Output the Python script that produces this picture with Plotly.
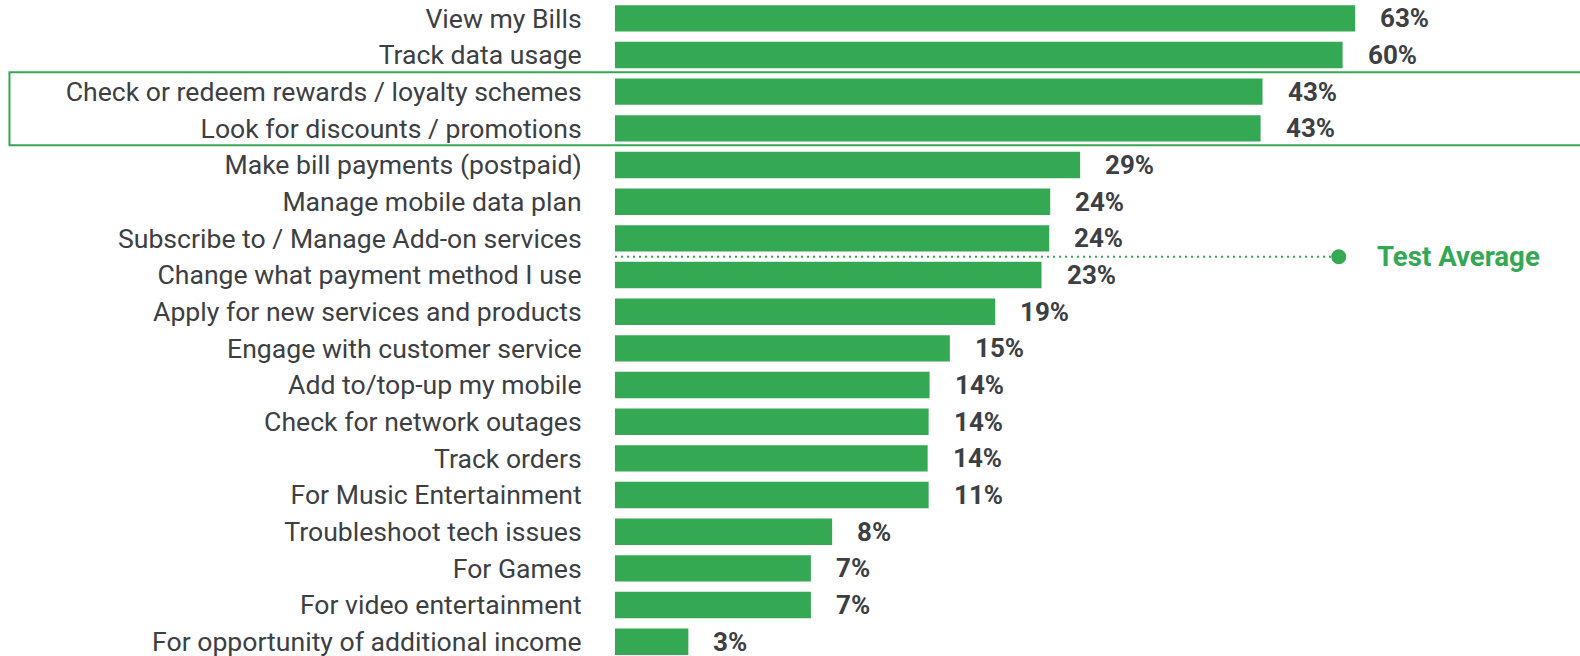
import plotly.graph_objects as go

categories = [
    "View my Bills",
    "Track data usage",
    "Check or redeem rewards / loyalty schemes",
    "Look for discounts / promotions",
    "Make bill payments (postpaid)",
    "Manage mobile data plan",
    "Subscribe to / Manage Add-on services",
    "Change what payment method I use",
    "Apply for new services and products",
    "Engage with customer service",
    "Add to/top-up my mobile",
    "Check for network outages",
    "Track orders",
    "For Music Entertainment",
    "Troubleshoot tech issues",
    "For Games",
    "For video entertainment",
    "For opportunity of additional income",
]
# bar lengths (index scale, as drawn)
bar_values = [76.7, 75.4, 67.1, 66.9, 48.2, 45.1, 45.0, 44.2, 39.4, 34.7,
              32.6, 32.5, 32.4, 32.5, 22.5, 20.3, 20.3, 7.6]
# shares printed next to the bars
pct_labels = ["63%", "60%", "43%", "43%", "29%", "24%", "24%", "23%", "19%",
              "15%", "14%", "14%", "14%", "11%", "8%", "7%", "7%", "3%"]
test_average = 75.0
test_average_label = "Test Average"

GREEN = "#34A853"
GRAY = "#3C4043"
FONT = "Roboto, Arial, sans-serif"

ypos = list(range(len(categories)))

fig = go.Figure()
fig.add_trace(go.Bar(
    x=bar_values, y=ypos, orientation="h", width=0.72,
    marker=dict(color=GREEN, line=dict(width=0)),
    hoverinfo="skip", showlegend=False,
))

# value labels
for v, y, t in zip(bar_values, ypos, pct_labels):
    fig.add_annotation(x=v, y=y, text=f"<b>{t}</b>", showarrow=False,
                       xanchor="left", yanchor="middle", xshift=23,
                       font=dict(family=FONT, size=26, color=GRAY))

# test average line + marker
avg_y = 6.5
fig.add_shape(type="line", x0=0, x1=test_average, y0=avg_y, y1=avg_y,
              xref="x", yref="y", line=dict(color=GREEN, width=2, dash="2px,4px"),
              layer="above")
fig.add_trace(go.Scatter(x=[test_average], y=[avg_y], mode="markers",
                         marker=dict(color=GREEN, size=15),
                         hoverinfo="skip", showlegend=False, cliponaxis=False))
fig.add_annotation(x=test_average, y=avg_y, text=f"<b>{test_average_label}</b>",
                   showarrow=False, xanchor="left", yanchor="middle", xshift=36,
                   font=dict(family=FONT, size=27.6, color=GREEN))

# highlight box
fig.add_shape(type="rect", xref="paper", yref="y", x0=-0.6275, x1=1.01,
              y0=1.47, y1=3.46, line=dict(color=GREEN, width=2),
              fillcolor="rgba(0,0,0,0)", layer="above")

fig.update_layout(
    width=1580, height=656,
    margin=dict(l=615, r=0, t=0, b=0, autoexpand=False),
    paper_bgcolor="white", plot_bgcolor="white",
    bargap=0.28,
    xaxis=dict(range=[0, 100], showgrid=False, zeroline=False,
               showticklabels=False, showline=False, fixedrange=True),
    yaxis=dict(range=[17.39, -0.5], tickvals=ypos, ticktext=categories,
               showgrid=False, zeroline=False, showline=False,
               ticks="outside", ticklen=27, tickcolor="rgba(0,0,0,0)",
               ticklabeloverflow="allow",
               tickfont=dict(family=FONT, size=26.6, color=GRAY),
               automargin=False, fixedrange=True),
)

fig.write_html("out.html", config={"displayModeBar": False})
